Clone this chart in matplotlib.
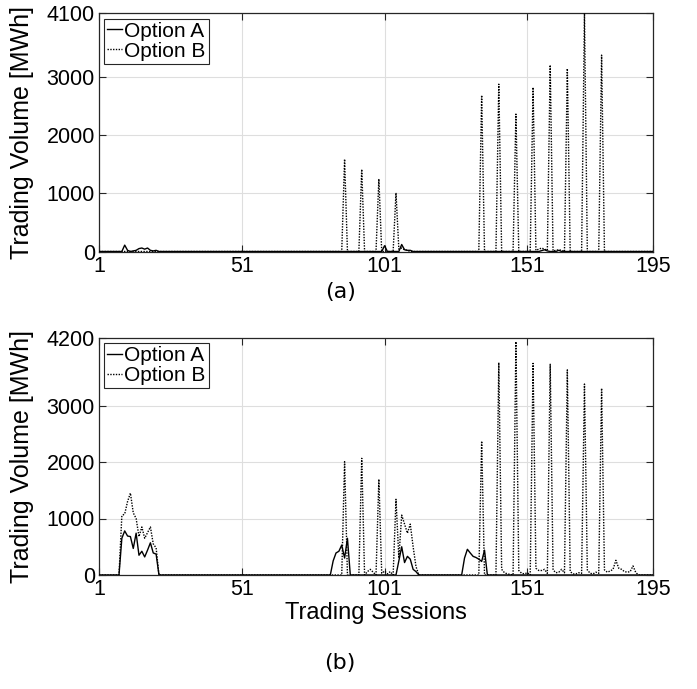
import numpy as np
import matplotlib
matplotlib.use("Agg")
import matplotlib.pyplot as plt

# ---------------- data (session -> volume, other sessions are 0) ----------------
n_sessions = 195
xticks = [1, 51, 101, 151, 195]
yticks_a = [0, 1000, 2000, 3000, 4100]
yticks_b = [0, 1000, 2000, 3000, 4200]

# (a) Option A
a_optA_sess = [10, 11, 13, 14, 15, 16, 17, 18, 19, 20, 21, 101, 107, 108, 109, 110, 156, 157, 158, 162]
a_optA_vals = [110, 20, 10, 20, 50, 60, 40, 60, 20, 10, 20, 100, 120, 30, 20, 20, 15, 30, 10, 20]
# (a) Option B
a_optB_sess = [87, 93, 99, 105, 106, 107, 108, 109, 135, 141, 147, 153, 154, 155, 156, 157, 158,
               159, 160, 161, 162, 163, 165, 171, 177]
a_optB_vals = [1590, 1415, 1250, 1010, 40, 60, 30, 20, 2690, 2880, 2365, 2825, 20, 40, 60, 40, 20,
               3210, 10, 20, 30, 20, 3150, 4100, 3380]

# (b) Option A
b_optA_sess = [9, 10, 11, 12, 13, 14, 15, 16, 17, 18, 19, 20, 21,
               83, 84, 85, 86, 87, 88,
               106, 107, 108, 109, 110, 111, 112,
               129, 130, 131, 132, 133, 134, 135, 136]
b_optA_vals = [650, 780, 690, 680, 470, 740, 350, 420, 320, 440, 570, 390, 370,
               250, 390, 420, 530, 300, 650,
               250, 500, 220, 330, 280, 100, 60,
               300, 455, 390, 330, 310, 280, 240, 440]
# (b) Option B
b_optB_sess = [9, 10, 11, 12, 13, 14, 15, 16, 17, 18, 19, 20, 21,
               87, 93, 95, 96, 97, 99, 100, 101, 102, 103, 105,
               106, 107, 108, 109, 110, 111, 112,
               135, 141, 142, 143, 144, 145, 147, 148, 149, 150, 151,
               153, 154, 155, 156, 157, 158, 159, 160, 161, 162, 163, 164,
               165, 166, 167, 168, 169, 170, 171, 172, 173, 174, 175, 176,
               177, 178, 179, 180, 181, 182, 183, 184, 185, 186, 187, 188, 189]
b_optB_vals = [1050, 1080, 1300, 1450, 1100, 1000, 680, 850, 650, 750, 850, 550, 480,
               2005, 2065, 60, 100, 50, 1695, 30, 70, 20, 60, 1340,
               300, 1060, 900, 740, 900, 500, 150,
               2370, 3760, 100, 40, 20, 10, 4130, 80, 30, 20, 40,
               3745, 120, 80, 80, 100, 30, 3730, 90, 40, 50, 100, 40,
               3630, 60, 20, 20, 40, 30, 3380, 90, 30, 20, 50, 30,
               3305, 90, 50, 70, 100, 260, 120, 100, 60, 50, 60, 160, 40]

labels = ["Option A", "Option B"]
ylabel = "Trading Volume [MWh]"
xlabel = "Trading Sessions"


def series(sess, vals):
    y = np.zeros(n_sessions)
    for s, v in zip(sess, vals):
        y[s - 1] = v
    return y


x = np.arange(1, n_sessions + 1)

plt.rcParams['font.family'] = ['Liberation Sans', 'DejaVu Sans']

fig = plt.figure(figsize=(6.97, 6.89), dpi=100)
W, H = 697, 689
axA = fig.add_axes([99 / W, 1 - 251.5 / H, (653 - 99) / W, (251.5 - 13.3) / H])
axB = fig.add_axes([99 / W, 1 - 575 / H, (653 - 99) / W, (575 - 337.7) / H])

panels = [
    (axA, series(a_optA_sess, a_optA_vals), series(a_optB_sess, a_optB_vals), yticks_a),
    (axB, series(b_optA_sess, b_optA_vals), series(b_optB_sess, b_optB_vals), yticks_b),
]

for ax, ya, yb, yt in panels:
    ax.plot(x, ya, color='black', lw=1.0, ls='-', label=labels[0], zorder=3)
    ax.plot(x, yb, color='black', lw=1.0, ls=(0, (1, 1)), label=labels[1], zorder=3)
    ax.set_xlim(1, n_sessions)
    ax.set_ylim(yt[0], yt[-1])
    ax.set_xticks(xticks)
    ax.set_yticks(yt)
    ax.tick_params(direction='in', top=True, right=True, length=5, width=0.8,
                   labelsize=15.5, pad=3, colors='#262626', labelcolor='black')
    ax.grid(True, color='#dedede', lw=0.8, zorder=0)
    ax.set_axisbelow(True)
    for sp in ax.spines.values():
        sp.set_color('#262626')
        sp.set_linewidth(0.9)
    ax.set_ylabel(ylabel, fontsize=18, labelpad=2)
    ax.yaxis.set_label_coords(-0.118, 0.5)
    leg = ax.legend(loc='upper left', fontsize=15, handlelength=0.7, handletextpad=0.1,
                    borderpad=0.15, labelspacing=0.05, borderaxespad=0.25,
                    fancybox=False, framealpha=1, edgecolor='#262626')
    leg.get_frame().set_linewidth(0.8)

axB.set_xlabel(xlabel, fontsize=17, labelpad=1)

fig.text(0.488, 1 - 292 / H, "(a)", ha='center', va='center', fontsize=16, family='DejaVu Sans')
fig.text(0.488, 1 - 663 / H, "(b)", ha='center', va='center', fontsize=16, family='DejaVu Sans')

fig.savefig("out.png", dpi=100)
